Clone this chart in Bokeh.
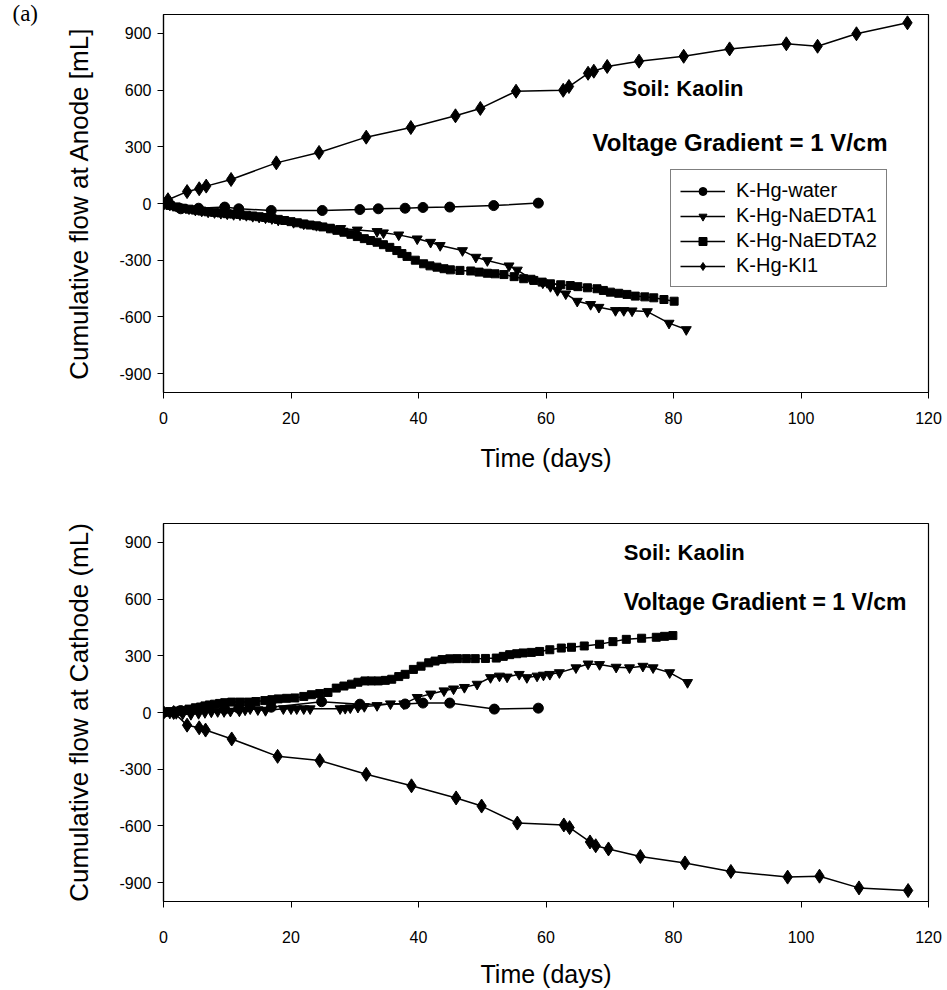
from bokeh.plotting import figure
from bokeh.layouts import column
from bokeh.models import FixedTicker, Label, Legend, LegendItem, Range1d, Title
from bokeh.embed import file_html
from bokeh.resources import INLINE

# ---------------- data: anode (top panel) ----------------
anode_water_days = [0, 1, 2.7, 5.5, 9.6, 11.8, 16.9, 24.9, 30.8, 33.7, 37.9, 40.7, 44.9, 51.8, 58.8]
anode_water_vals = [0, -5, -28, -25, -19, -28, -37, -37, -32, -28, -25, -21, -19, -11, 2]

anode_edta1_days = [0, 1, 2, 3, 4, 5, 6, 7, 8, 9, 10, 11, 12, 13, 14, 15, 16, 17, 18, 20.4, 22, 24, 26,
                    27.8, 30.4, 33.5, 34.5, 36.9, 39.8, 41.9, 43.4, 46.9, 49, 50.8, 54.2, 55.5, 57.5, 59.5,
                    60.7, 61.8, 63.1, 64.9, 67, 68.3, 70.9, 72.2, 73.5, 75.9, 79.3, 82]
anode_edta1_vals = [0, -8, -15, -22, -28, -35, -40, -45, -48, -52, -55, -58, -60, -63, -68, -72, -76, -80,
                    -88, -100, -108, -116, -125, -132, -140, -148, -155, -166, -187, -205, -222, -249, -284,
                    -302, -330, -352, -395, -420, -439, -460, -478, -517, -534, -549, -566, -566, -568, -572,
                    -633, -667]

anode_edta2_days = [0, 1, 2, 3, 4, 5, 6, 7, 8, 9, 10, 11, 12, 13, 14, 15, 16, 17, 18, 19, 20, 21, 22, 23,
                    24, 25, 26.2, 27.2, 28.3, 29.4, 30.4, 31.5, 32.5, 33.5, 34.5, 35.5, 36.6, 37.4, 38.2,
                    39.5, 40.8, 41.8, 42.9, 44, 45, 46.5, 48.2, 49.5, 50.8, 52, 53.4, 55, 56.5, 58.1, 59.4,
                    60.7, 62.3, 63.8, 65, 66.5, 68, 69, 70.1, 71.4, 72.7, 74, 75.5, 76.9, 78.5, 80.1]
anode_edta2_vals = [0, -10, -18, -25, -30, -35, -40, -44, -47, -50, -54, -56, -58, -62, -66, -70, -74, -78,
                    -84, -90, -96, -102, -108, -114, -118, -124, -134, -142, -152, -163, -175, -186, -196,
                    -205, -218, -232, -249, -265, -280, -300, -319, -330, -337, -345, -351, -354, -357, -363,
                    -369, -372, -376, -387, -398, -407, -416, -425, -430, -434, -440, -446, -451, -460, -469,
                    -475, -481, -490, -494, -499, -508, -517]

anode_ki_days = [0, 0.7, 3.7, 5.6, 6.7, 10.6, 17.7, 24.4, 31.8, 38.8, 45.8, 49.7, 55.3, 62.7, 63.6, 66.6,
                 67.5, 69.6, 74.6, 81.6, 88.8, 97.7, 102.6, 108.7, 116.7]
anode_ki_vals = [0, 20, 63, 78, 92, 127, 215, 270, 351, 402, 464, 503, 594, 599, 619, 689, 700, 725, 753,
                 779, 818, 845, 832, 898, 956]

# ---------------- data: cathode (bottom panel) ----------------
cath_water_days = [0, 2.7, 9.6, 11.8, 16.9, 24.8, 30.8, 37.9, 40.7, 44.9, 51.9, 58.8]
cath_water_vals = [0, 10, 18, 22, 28, 57, 44, 45, 50, 50, 18, 23]

cath_edta1_days = [0, 1, 2, 3, 4.3, 5.5, 6.5, 7.5, 8.5, 9.5, 10.5, 11.9, 12.8, 13.6, 14.8, 16, 18.8, 20,
                   20.9, 22, 23, 27.7, 28.5, 29.3, 30.5, 31.5, 33.5, 35.6, 37.7, 39.8, 41.9, 44, 45.5, 47.2,
                   49.2, 51.3, 52.7, 53.9, 55.8, 57, 58.6, 59.6, 60.6, 62.1, 64.7, 66.6, 68.4, 71, 73.1,
                   75.2, 76.8, 79.4, 82.2]
cath_edta1_vals = [0, -3, -5, -8, -10, -5, 0, 3, 5, 5, 7, 8, 14, 20, 15, 11, 20, 20, 20, 20, 20, 20, 22,
                   25, 28, 32, 37, 46, 46, 80, 98, 115, 125, 133, 150, 185, 193, 188, 202, 185, 193, 198,
                   202, 211, 237, 257, 254, 240, 237, 245, 237, 211, 159]

cath_edta2_days = [0, 1, 2, 2.8, 4, 5, 5.8, 6.5, 7.2, 8, 8.8, 9.6, 10.7, 12, 13.3, 14.5, 15.9, 17, 18, 19.3,
                   20.6, 22, 23.2, 24.5, 25.8, 27.1, 28.3, 29.5, 30.5, 31.6, 32.6, 33.7, 34.8, 35.8, 36.9,
                   37.9, 39.2, 40.4, 41.6, 42.6, 43.7, 44.9, 46.1, 47.5, 48.9, 50.5, 52.2, 53.3, 54.3, 55.4,
                   56.4, 57.7, 59, 60.6, 62.4, 64, 66, 68.4, 70.5, 72.6, 75, 77.3, 78.6, 79.9]
cath_edta2_vals = [0, 5, 8, 11, 18, 25, 29, 35, 40, 44, 48, 52, 55, 55, 55, 58, 63, 68, 72, 75, 77, 85, 94,
                   100, 106, 129, 140, 150, 160, 167, 167, 167, 170, 176, 190, 202, 228, 245, 263, 272, 280,
                   284, 285, 285, 285, 286, 288, 297, 306, 311, 315, 318, 323, 332, 341, 345, 352, 361, 375,
                   387, 393, 398, 403, 407]

cath_ki_days = [0, 1.6, 3.7, 5.6, 6.6, 10.7, 17.9, 24.5, 31.8, 38.9, 45.9, 49.9, 55.5, 62.8, 63.7, 66.9,
                67.8, 69.8, 74.8, 81.8, 89.0, 97.9, 102.9, 109.1, 116.8]
cath_ki_vals = [0, 0, -67, -81, -93, -140, -232, -254, -327, -388, -452, -495, -585, -595, -609, -685,
                -705, -722, -762, -796, -841, -871, -866, -928, -942]

series_names = ["K-Hg-water", "K-Hg-NaEDTA1", "K-Hg-NaEDTA2", "K-Hg-KI1"]
y_ticks = [-900, -600, -300, 0, 300, 600, 900]
y_tick_labels = ["-900", "-600", "-300", "0", "300", "600", "900"]
x_ticks = [0, 20, 40, 60, 80, 100, 120]

FONT = "Liberation Sans"
markers = [("circle", 10), ("inverted_triangle", 10), ("square", 8), ("diamond", 14)]


def make_fig(height, top, bottom, ylabel, xlab_standoff, xaxis_standoff):
    p = figure(width=947, height=height, output_backend="svg", toolbar_location=None,
               x_range=Range1d(0, 120), y_range=Range1d(-1000, 1000),
               min_border_left=163, min_border_right=19, min_border_top=top, min_border_bottom=bottom)
    p.xgrid.visible = False
    p.ygrid.visible = False
    p.outline_line_color = "black"
    p.outline_line_width = 1.2
    p.background_fill_color = "white"
    p.border_fill_color = "white"
    for ax in (p.xaxis[0], p.yaxis[0]):
        ax.axis_line_color = "black"
        ax.axis_line_width = 1.2
        ax.major_tick_line_color = "black"
        ax.major_tick_in = 0
        ax.major_tick_out = 6
        ax.minor_tick_line_color = None
        ax.major_label_text_font = FONT
        ax.major_label_text_font_size = "16px"
        ax.major_label_text_color = "black"
        ax.axis_label_text_font = FONT
        ax.axis_label_text_font_style = "normal"
        ax.axis_label_text_color = "black"
    p.xaxis.axis_label_text_font_size = "25px"
    p.yaxis.axis_label_text_font_size = "26px"
    p.xaxis.ticker = FixedTicker(ticks=x_ticks)
    p.yaxis.ticker = FixedTicker(ticks=y_ticks)
    p.yaxis.major_label_overrides = dict(zip(y_ticks, y_tick_labels))
    p.xaxis.axis_label = "Time (days)"
    p.yaxis.axis_label = ylabel
    p.xaxis.major_label_standoff = xlab_standoff
    p.xaxis.axis_label_standoff = xaxis_standoff
    p.yaxis.major_label_standoff = 6
    p.yaxis.axis_label_standoff = 22
    return p


def add_series(p, data, with_legend):
    items = []
    for name, (days, vals), (mk, sz) in zip(series_names, data, markers):
        ln = p.line(days, vals, line_color="black", line_width=1.5)
        sc = p.scatter(days, vals, marker=mk, size=sz, fill_color="black", line_color="black")
        items.append(LegendItem(label=name, renderers=[ln, sc]))
    if with_legend:
        leg = Legend(items=items, location=(507, 105), border_line_color="black",
                     border_line_width=1.2, background_fill_alpha=1.0,
                     label_text_font=FONT, label_text_font_size="20px", label_text_color="black",
                     glyph_width=45, glyph_height=20, label_height=20, spacing=2,
                     padding=9, margin=0, label_standoff=11)
        p.add_layout(leg, "center")


def note(p, x, y, text, size):
    p.add_layout(Label(x=x, y=y, text=text, text_font=FONT, text_font_size=size, text_color="black",
                       text_font_style="bold", text_baseline="middle", text_align="left"))


p1 = make_fig(490, 14, 98, "Cumulative flow at Anode [mL]", 13, 17)
add_series(p1, [(anode_water_days, anode_water_vals), (anode_edta1_days, anode_edta1_vals),
                (anode_edta2_days, anode_edta2_vals), (anode_ki_days, anode_ki_vals)], True)
note(p1, 72, 608, "Soil: Kaolin", "22px")
note(p1, 67.3, 325, "Voltage Gradient = 1 V/cm", "24px")
p1.add_layout(Title(text="(a)", align="left", offset=-151, standoff=-22, text_font="Liberation Serif",
                    text_font_size="23px", text_font_style="normal", text_color="black"), "above")

p2 = make_fig(500, 33, 82, "Cumulative flow at Cathode (mL)", 23, 14)
add_series(p2, [(cath_water_days, cath_water_vals), (cath_edta1_days, cath_edta1_vals),
                (cath_edta2_days, cath_edta2_vals), (cath_ki_days, cath_ki_vals)], False)
note(p2, 72.2, 845, "Soil: Kaolin", "22px")
note(p2, 72.2, 585, "Voltage Gradient = 1 V/cm", "23px")

layout = column(p1, p2, spacing=0)
open("out.html", "w").write(file_html(layout, INLINE))
